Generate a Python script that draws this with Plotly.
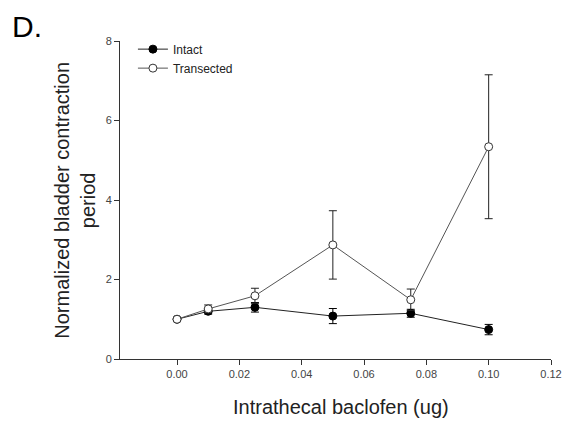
import plotly.graph_objects as go

dose = [0.0, 0.01, 0.025, 0.05, 0.075, 0.10]
intact_mean = [1.0, 1.20, 1.30, 1.08, 1.15, 0.74]
intact_err = [0.0, 0.07, 0.12, 0.19, 0.10, 0.13]
trans_mean = [1.0, 1.26, 1.59, 2.87, 1.49, 5.34]
trans_err = [0.0, 0.10, 0.19, 0.86, 0.27, 1.81]
x_ticks = [0.0, 0.02, 0.04, 0.06, 0.08, 0.10, 0.12]
y_ticks = [0, 2, 4, 6, 8]

FONT = "Liberation Sans, Arial, sans-serif"

# The page body has an 8px default margin, so the figure is sized/offset to compensate.
fig = go.Figure()
fig.add_trace(go.Scatter(
    x=dose, y=intact_mean, name="Intact", mode="lines+markers",
    line=dict(color="#222222", width=1),
    marker=dict(symbol="circle", size=8, color="black", line=dict(color="black", width=1)),
    error_y=dict(type="data", array=intact_err, color="black", thickness=1, width=4),
    cliponaxis=False,
))
fig.add_trace(go.Scatter(
    x=dose, y=trans_mean, name="Transected", mode="lines+markers",
    line=dict(color="#555555", width=1),
    marker=dict(symbol="circle", size=8, color="white", line=dict(color="#333333", width=1)),
    error_y=dict(type="data", array=trans_err, color="#222222", thickness=1, width=4),
    cliponaxis=False,
))

fig.update_layout(
    width=566, height=417,
    margin=dict(l=112, r=17, t=33, b=66),
    paper_bgcolor="white", plot_bgcolor="white",
    font=dict(family=FONT, color="#333333"),
    showlegend=True,
    legend=dict(x=0.03, y=1.02, xanchor="left", yanchor="top",
                font=dict(size=12, color="#222222"), bgcolor="rgba(0,0,0,0)",
                tracegroupgap=0, itemwidth=30),
    xaxis=dict(range=[-0.0183, 0.12], tickvals=x_ticks, tickformat=".2f",
               ticks="outside", ticklen=5, tickcolor="#333333", showline=True,
               linecolor="#333333", linewidth=1, showgrid=False, zeroline=False,
               tickfont=dict(size=11, color="#444444")),
    yaxis=dict(range=[0, 8], tickvals=y_ticks, ticks="outside", ticklen=5,
               tickcolor="#333333", showline=True, linecolor="#333333", linewidth=1,
               showgrid=False, zeroline=False, tickfont=dict(size=11, color="#444444")),
    annotations=[
        dict(text="Normalized bladder contraction<br>period", textangle=-90,
             xref="paper", yref="paper", x=-0.105, y=0.5, xanchor="center", yanchor="middle",
             showarrow=False, font=dict(size=20, color="#222222")),
        dict(text="Intrathecal baclofen (ug)", xref="paper", yref="paper",
             x=0.513, y=-0.151, xanchor="center", yanchor="middle",
             showarrow=False, font=dict(size=20, color="#222222")),
        dict(text="D.", xref="paper", yref="paper", x=-0.256, y=1.045,
             xanchor="left", yanchor="middle", showarrow=False,
             font=dict(size=30, color="black")),
    ],
)

fig.write_html("out.html")
